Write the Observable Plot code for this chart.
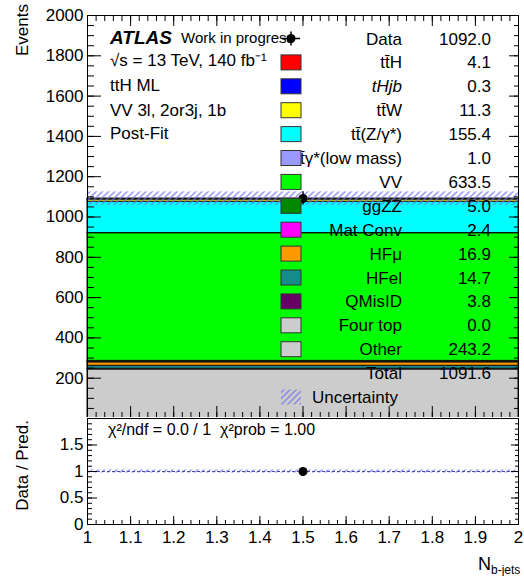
<!DOCTYPE html>
<html><head><meta charset="utf-8">
<script src="https://cdn.jsdelivr.net/npm/d3@7"></script>
<script src="https://cdn.jsdelivr.net/npm/@observablehq/plot@0.6"></script>
<style>
html,body{margin:0;padding:0;background:#fff;}
#chart{position:relative;width:524px;height:576px;overflow:hidden;font-family:"Liberation Sans",Arial,Helvetica,sans-serif;}
#chart svg{position:absolute;left:0;}
</style></head><body><div id="chart"></div>
<script>
// ---------- data ----------
const binLo = [1];
const binHi = [2];
const samples = ["Other","Four top","QMisID","HFel","HFμ","Mat Conv","ggZZ","VV","tt\u0304γ*(low mass)","tt\u0304(Z/γ*)","tt\u0304W","tHjb","tt\u0304H"];
const yields  = [243.2, 0.0, 3.8, 14.7, 16.9, 2.4, 5.0, 633.5, 1.0, 155.4, 11.3, 0.3, 4.1];
const colors  = ["#cccccc","#cccccc","#660066","#168c8c","#ff9900","#ff00ff","#008800","#00ff00","#9999ff","#00ffff","#ffff00","#0000ff","#ff0000"];
const dataCounts = [1092.0];
const totalPred = [1091.6];
const totalUnc = [33.0];
const yTickLabels = [200,400,600,800,1000,1200,1400,1600,1800,2000];
const xTickLabels = [1,1.1,1.2,1.3,1.4,1.5,1.6,1.7,1.8,1.9,2];
const ratioTickLabels = [0,0.5,1,1.5];
const chi2Text = "χ²/ndf = 0.0 / 1  χ²prob = 1.00";

// ---------- tables ----------
const stackRows = samples.map((s,i)=>({sample:s, lo:binLo[0], hi:binHi[0], value:yields[i], color:colors[i]}));
const uncRows = binLo.map((lo,i)=>({lo, hi:binHi[i], total:totalPred[i], unc:totalUnc[i]}));
const dataRows = binLo.map((lo,i)=>({xc:(lo+binHi[i])/2, n:dataCounts[i], err:Math.sqrt(dataCounts[i])}));
const ratioRows = dataRows.map((d,i)=>({xc:d.xc, r:d.n/totalPred[i], err:d.err/totalPred[i]}));

const xDom = [binLo[0], binHi[binHi.length-1]];
const xMinor = d3.range(0,51).map(i=>xDom[0]+i*(xDom[1]-xDom[0])/50);
const yMinor = d3.range(0,2001,50);
const rMinor = d3.range(0,21).map(i=>i/10);
const FONT = '"Liberation Sans",Arial,Helvetica,sans-serif';
const fmt1 = d=>String(+(+d).toFixed(2));

const W = 524;
const baseStyle = {fontFamily:FONT, fontSize:"17px", color:"black", background:"white"};

// ---------- main panel ----------
const main = Plot.plot({
  width:W, height:419, marginTop:15, marginBottom:1, marginLeft:87, marginRight:6,
  style:baseStyle,
  x:{domain:xDom, axis:null},
  y:{domain:[0,2000], axis:null},
  color:{type:"identity"},
  marks:[
    Plot.rectY(stackRows,{x1:"lo", x2:"hi", y:"value", fill:"color", stroke:"#111", strokeWidth:1}),
    Plot.rect(uncRows,{x1:"lo", x2:"hi", y1:d=>d.total-d.unc, y2:d=>d.total+d.unc, fill:"url(#hatchMain)"}),
    Plot.ruleX(dataRows,{x:"xc", y1:d=>d.n-d.err, y2:d=>d.n+d.err, stroke:"black", strokeWidth:1.5}),
    Plot.dot(dataRows,{x:"xc", y:"n", r:4.5, fill:"black", stroke:"none"}),
    Plot.frame({stroke:"black"}),
    Plot.axisY(yMinor,{anchor:"left", tickSize:-7, fill:"none", label:null}),
    Plot.axisY(yTickLabels,{anchor:"left", tickSize:-14, fill:"none", label:null}),
    Plot.axisY(yTickLabels,{anchor:"left", tickSize:0, tickPadding:4, tickFormat:d=>String(d), label:null, fontSize:17}),
    Plot.axisY(yMinor,{anchor:"right", tickSize:-5, fill:"none", label:null}),
    Plot.axisY(yTickLabels,{anchor:"right", tickSize:-10, fill:"none", label:null}),
    Plot.axisX(xMinor,{anchor:"bottom", tickSize:-6, fill:"none", label:null}),
    Plot.axisX(xTickLabels,{anchor:"bottom", tickSize:-12, fill:"none", label:null}),
    Plot.axisX(xMinor,{anchor:"top", tickSize:-5, fill:"none", label:null}),
    Plot.axisX(xTickLabels,{anchor:"top", tickSize:-10, fill:"none", label:null})
  ]
});
main.style.top = "0px";

// ---------- ratio panel ----------
const ratio = Plot.plot({
  width:W, height:159, marginTop:1, marginBottom:52, marginLeft:87, marginRight:6,
  style:baseStyle,
  x:{domain:xDom, axis:null},
  y:{domain:[0,2], axis:null},
  marks:[
    Plot.rect(uncRows,{x1:"lo", x2:"hi", y1:d=>1-d.unc/d.total, y2:d=>1+d.unc/d.total, fill:"url(#hatchRatio)"}),
    Plot.ruleY(ratioTickLabels.filter(v=>v===1),{y:d=>d, stroke:"#4a4aa0", strokeWidth:1, strokeDasharray:"3,2"}),
    Plot.ruleX(ratioRows,{x:"xc", y1:d=>d.r-d.err, y2:d=>d.r+d.err, stroke:"black", strokeWidth:1.5}),
    Plot.dot(ratioRows,{x:"xc", y:"r", r:4.5, fill:"black", stroke:"none"}),
    Plot.frame({stroke:"black"}),
    Plot.axisY(rMinor,{anchor:"left", tickSize:-5, fill:"none", label:null}),
    Plot.axisY(ratioTickLabels,{anchor:"left", tickSize:-10, fill:"none", label:null}),
    Plot.axisY(ratioTickLabels,{anchor:"left", tickSize:0, tickPadding:4, tickFormat:fmt1, label:null, fontSize:17}),
    Plot.axisY(rMinor,{anchor:"right", tickSize:-4, fill:"none", label:null}),
    Plot.axisY(ratioTickLabels,{anchor:"right", tickSize:-8, fill:"none", label:null}),
    Plot.axisX(xMinor,{anchor:"bottom", tickSize:-4, fill:"none", label:null}),
    Plot.axisX(xTickLabels,{anchor:"bottom", tickSize:-8, fill:"none", label:null}),
    Plot.axisX(xTickLabels,{anchor:"bottom", tickSize:0, tickPadding:6, tickFormat:fmt1, label:null, fontSize:17})
  ]
});
ratio.style.top = "417px";

const chart = document.getElementById("chart");
chart.appendChild(main);
chart.appendChild(ratio);

// ---------- hatch patterns ----------
function addHatch(svg, id){
  const s = d3.select(svg);
  const defs = s.insert("defs", ":first-child");
  const p = defs.append("pattern").attr("id", id).attr("patternUnits","userSpaceOnUse")
    .attr("width",4.4).attr("height",10).attr("patternTransform","rotate(45)");
  p.append("line").attr("x1",1).attr("y1",0).attr("x2",1).attr("y2",10)
    .attr("stroke","#7070ee").attr("stroke-width",1.1);
}
addHatch(main,"hatchMain");
addHatch(ratio,"hatchRatio");

// ---------- annotations (main) ----------
const m = d3.select(main).append("g").attr("font-family",FONT).attr("fill","black").attr("text-anchor","start");
m.append("text").attr("x",110).attr("y",44).attr("font-size",19).attr("font-weight","bold").attr("font-style","italic").text("ATLAS");
m.append("text").attr("x",181).attr("y",43).attr("font-size",15).text("Work in progress");
m.append("text").attr("x",110).attr("y",66).attr("font-size",17).text("√s = 13 TeV, 140 fb⁻¹");
m.append("text").attr("x",110).attr("y",91).attr("font-size",17).text("ttH ML");
m.append("text").attr("x",110).attr("y",116).attr("font-size",17).text("VV 3l, 2or3j, 1b");
m.append("text").attr("x",110).attr("y",139).attr("font-size",17).text("Post-Fit");
m.append("text").attr("transform","translate(28,4) rotate(-90)").attr("text-anchor","end").attr("font-size",17).text("Events");

// legend
const legendItems = [{label:"Data", value:dataCounts[0], kind:"data"}]
  .concat(samples.map((s,i)=>({label:s, value:yields[i], color:colors[i], kind:"box"})).reverse())
  .concat([{label:"Total", value:totalPred[0], kind:"none"}, {label:"Uncertainty", kind:"hatch"}]);
const rowY = i => 38.5 + 23.9*i;
const lg = m.append("g");
legendItems.forEach((it,i)=>{
  const yc = rowY(i);
  if (it.kind==="hatch"){
    lg.append("text").attr("x",312).attr("y",yc+6).attr("text-anchor","start").attr("font-size",17).text(it.label);
  } else {
    const t = lg.append("text").attr("x",402).attr("y",yc+6).attr("text-anchor","end").attr("font-size",17).text(it.label);
    if (it.label==="tHjb") t.attr("font-style","italic");
    lg.append("text").attr("x",491).attr("y",yc+6).attr("text-anchor","end").attr("font-size",17).text((+it.value).toFixed(1));
  }
});
legendItems.forEach((it,i)=>{
  const yc = rowY(i);
  if (it.kind==="box"){
    lg.append("rect").attr("x",281).attr("y",yc-7.5).attr("width",20).attr("height",15)
      .attr("fill",it.color).attr("stroke","#333").attr("stroke-width",1);
  } else if (it.kind==="hatch"){
    lg.append("rect").attr("x",281).attr("y",yc-7.5).attr("width",20).attr("height",15).attr("fill","url(#hatchMain)");
  } else if (it.kind==="data"){
    lg.append("line").attr("x1",282).attr("x2",300).attr("y1",yc).attr("y2",yc).attr("stroke","black").attr("stroke-width",1.5);
    lg.append("line").attr("x1",291).attr("x2",291).attr("y1",yc-7).attr("y2",yc+7).attr("stroke","black").attr("stroke-width",1.5);
    lg.append("circle").attr("cx",291).attr("cy",yc).attr("r",4.5).attr("fill","black");
  }
});

// ---------- annotations (ratio) ----------
const r = d3.select(ratio).append("g").attr("font-family",FONT).attr("fill","black").attr("text-anchor","start");
r.append("text").attr("x",108).attr("y",18).attr("font-size",16).text(chi2Text);
r.append("text").attr("transform","translate(28,3) rotate(-90)").attr("text-anchor","end").attr("font-size",17).text("Data / Pred.");
const xt = r.append("text").attr("x",478).attr("y",153).attr("font-size",18);
xt.append("tspan").text("N");
xt.append("tspan").attr("font-size",12).attr("dy",4).text("b-jets");
</script></body></html>
